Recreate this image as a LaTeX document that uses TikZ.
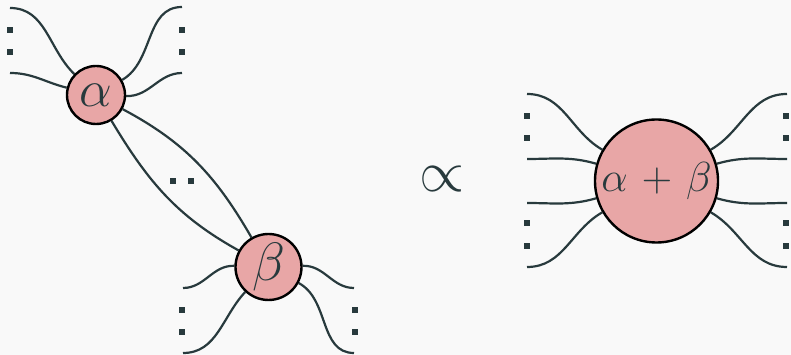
\RequirePackage{fix-cm}
\documentclass[tikz,border=0pt]{standalone}
\usetikzlibrary{backgrounds}
\definecolor{bgc}{RGB}{249,249,249}
\definecolor{wirec}{RGB}{40,58,61}
\definecolor{spiderc}{RGB}{232,166,166}
\begin{document}
\begin{tikzpicture}[x=1pt,y=1pt,
  wire/.style={draw=wirec,line width=2.2pt},
  spider/.style={circle,draw=black,line width=2.4pt,fill=spiderc,inner sep=0pt,text=wirec},
  dotsq/.style={rectangle,fill=wirec,minimum size=5.5pt,inner sep=0pt}]
\useasboundingbox (0,0) rectangle (791,355);

% spiders
\node[spider,minimum size=58pt] (alpha) at (96,260) {\fontsize{52}{56}\selectfont$\alpha$};
\node[spider,minimum size=66pt] (beta) at (268.5,88) {\fontsize{54}{58}\selectfont$\beta$};
\node[spider,minimum size=123pt] (sum) at (656.5,174) {\fontsize{42}{46}\selectfont$\alpha\mskip2mu+\mskip2mu\beta$};

% free ends of the wires
\coordinate (a1) at (10,347);
\coordinate (a2) at (10,282);
\coordinate (a3) at (182,348);
\coordinate (a4) at (182,282);
\coordinate (b1) at (183,67);
\coordinate (b2) at (183,2);
\coordinate (b3) at (354,67);
\coordinate (b4) at (354,2);
\coordinate (c1) at (527,261);
\coordinate (c2) at (527,196);
\coordinate (c3) at (527,152);
\coordinate (c4) at (527,88);
\coordinate (d1) at (787,261);
\coordinate (d2) at (787,196);
\coordinate (d3) at (787,152);
\coordinate (d4) at (787,88);

% wires go behind the spiders
\begin{scope}[on background layer]
\fill[bgc] (0,0) rectangle (791,355);
\path[wire] (alpha.136) to[out=136,in=0] (a1);
\path[wire] (alpha.166) to[out=166,in=0] (a2);
\path[wire] (alpha.30) to[out=30,in=180] (a3);
\path[wire] (alpha.-2) to[out=-2,in=180] (a4);
\path[wire] (alpha.-28) to[out=-28,in=120] (beta.120);
\path[wire] (alpha.-59) to[out=-59,in=151] (beta.151);

\path[wire] (beta.178) to[out=178,in=0] (b1);
\path[wire] (beta.227) to[out=227,in=0] (b2);
\path[wire] (beta.2) to[out=2,in=180] (b3);
\path[wire] (beta.-28) to[out=-28,in=180] (b4);

\path[wire] (sum.150) to[out=150,in=0] (c1);
\path[wire] (sum.164) to[out=164,in=0] (c2);
\path[wire] (sum.196) to[out=196,in=0] (c3);
\path[wire] (sum.210) to[out=210,in=0] (c4);
\path[wire] (sum.30) to[out=30,in=180] (d1);
\path[wire] (sum.16) to[out=16,in=180] (d2);
\path[wire] (sum.-16) to[out=-16,in=180] (d3);
\path[wire] (sum.-30) to[out=-30,in=180] (d4);
\end{scope}

% proportionality sign
\node[text=wirec] (prop) at (442,176) {\fontsize{58}{60}\selectfont$\propto$};

% ellipsis dots
\node[dotsq] (da1) at (10,325) {};
\node[dotsq] (da2) at (10,303) {};
\node[dotsq] (da3) at (182,325) {};
\node[dotsq] (da4) at (182,303) {};
\node[dotsq] (db1) at (182,45) {};
\node[dotsq] (db2) at (182,23) {};
\node[dotsq] (db3) at (355,45) {};
\node[dotsq] (db4) at (355,23) {};
\node[dotsq] (dm1) at (173,174) {};
\node[dotsq] (dm2) at (191,174) {};
\node[dotsq] (dc1) at (527,239) {};
\node[dotsq] (dc2) at (527,217) {};
\node[dotsq] (dc3) at (527,132) {};
\node[dotsq] (dc4) at (527,109) {};
\node[dotsq] (dd1) at (786,239) {};
\node[dotsq] (dd2) at (786,217) {};
\node[dotsq] (dd3) at (786,132) {};
\node[dotsq] (dd4) at (786,109) {};
\end{tikzpicture}
\end{document}
